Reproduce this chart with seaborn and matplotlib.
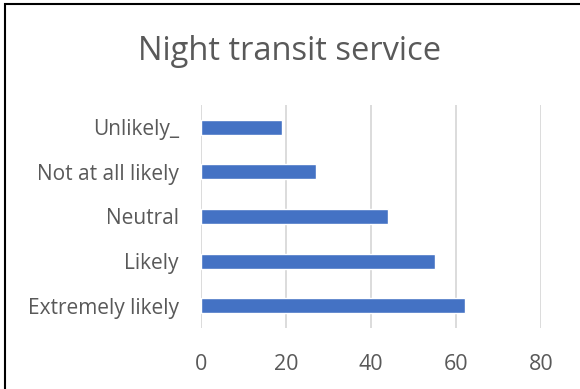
import matplotlib
matplotlib.use("Agg")
import matplotlib.pyplot as plt
import seaborn as sns
import pandas as pd
from matplotlib.patches import Rectangle

categories = ["Unlikely_", "Not at all likely", "Neutral", "Likely", "Extremely likely"]
values = [19, 27, 44, 55, 62]
xticks = [0, 20, 40, 60, 80]

sns.set_theme(style="white")
plt.rcParams['font.family'] = ['Open Sans', 'DejaVu Sans']

df = pd.DataFrame({"category": categories, "value": values})

fig = plt.figure(figsize=(5.8, 3.89), dpi=100)
ax = fig.add_axes([201/580, 1-328/389, 340/580, 223/389])
sns.barplot(data=df, y="category", x="value", color="#4472C4", width=0.34,
            saturation=1, ax=ax, orient="h")
ax.set_xlim(0, 80)
ax.set_xticks(xticks)
ax.xaxis.grid(True, color="#d9d9d9", linewidth=1.3)
ax.set_axisbelow(True)
for s in ax.spines.values():
    s.set_visible(False)
ax.set_xlabel("")
ax.set_ylabel("")
ax.tick_params(axis="x", colors="#595959", labelsize=15.5, length=0, pad=19)
ax.tick_params(axis="y", colors="#595959", labelsize=15, length=0, pad=16)
for lab in ax.get_xticklabels() + ax.get_yticklabels():
    lab.set_color("#595959")
fig.text(0.5, 1-52/389, "Night transit service", ha="center", va="center",
         fontsize=23.5, color="#595959")
fig.patches.append(Rectangle((5/580, -0.01), 1.1, 1-4/389+0.01, transform=fig.transFigure,
                             fill=False, edgecolor="black", linewidth=1.5))
fig.savefig("out.png", dpi=100)
